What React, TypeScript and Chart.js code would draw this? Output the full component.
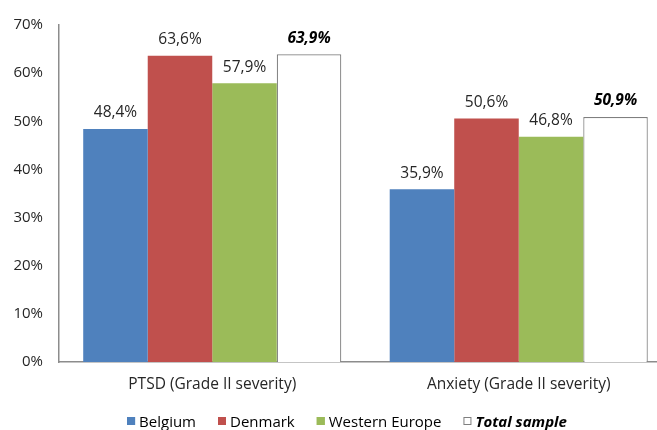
import React, { useEffect, useRef } from "react";
import { Chart, registerables } from "chart.js";

Chart.register(...registerables);

const categories = ["PTSD (Grade II severity)", "Anxiety (Grade II severity)"];
const seriesNames = ["Belgium", "Denmark", "Western Europe", "Total sample"];
const belgium = [48.4, 35.9];
const denmark = [63.6, 50.6];
const westernEurope = [57.9, 46.8];
const totalSample = [63.9, 50.9];
const yTicks = [0, 10, 20, 30, 40, 50, 60, 70];

const FONT = "'Open Sans', 'Liberation Sans', sans-serif";
const fills = ["#4F81BD", "#C0504D", "#9BBB59", "#FFFFFF"];
const borders = ["#4F81BD", "#C0504D", "#9BBB59", "#7F7F7F"];

const fmt = (v: number) => v.toFixed(1).replace(".", ",") + "%";

const valueLabels = {
  id: "valueLabels",
  afterDatasetsDraw(chart: any) {
    const ctx = chart.ctx;
    ctx.save();
    ctx.textAlign = "center";
    ctx.textBaseline = "middle";
    chart.data.datasets.forEach((ds: any, i: number) => {
      const meta = chart.getDatasetMeta(i);
      const isTotal = i === 3;
      ctx.font = (isTotal ? "italic bold " : "") + "15.5px " + FONT;
      ctx.fillStyle = isTotal ? "#000000" : "#262626";
      meta.data.forEach((bar: any, j: number) => {
        ctx.fillText(fmt(ds.data[j]), bar.x, bar.y - 16);
      });
    });
    ctx.restore();
  },
};

const customLegend = {
  id: "customLegend",
  afterDraw(chart: any) {
    const ctx = chart.ctx;
    ctx.save();
    const y = 421;
    const box = 8;
    const gapText = 4;
    const spacing = 22;
    const items = chart.data.datasets.map((ds: any, i: number) => {
      const font = (i === 3 ? "italic bold " : "") + "15px " + FONT;
      ctx.font = font;
      const w = ctx.measureText(ds.label).width;
      return { label: ds.label, font, w, fill: ds.backgroundColor, stroke: ds.borderColor };
    });
    const total = items.reduce((s: number, it: any) => s + box + gapText + it.w, 0) + spacing * (items.length - 1);
    let x = 347 - total / 2;
    ctx.textBaseline = "middle";
    ctx.textAlign = "left";
    items.forEach((it: any) => {
      ctx.fillStyle = it.fill;
      ctx.fillRect(x, y - box / 2, box, box);
      ctx.strokeStyle = it.stroke;
      ctx.lineWidth = 1;
      ctx.strokeRect(x + 0.5, y - box / 2 + 0.5, box - 1, box - 1);
      ctx.font = it.font;
      ctx.fillStyle = "#000000";
      ctx.fillText(it.label, x + box + gapText, y + 1.5);
      x += box + gapText + it.w + spacing;
    });
    ctx.restore();
  },
};

export default function App() {
  const ref = useRef<HTMLCanvasElement>(null);
  useEffect(() => {
    const series = [belgium, denmark, westernEurope, totalSample];
    const chart = new Chart(ref.current as HTMLCanvasElement, {
      type: "bar",
      data: {
        labels: categories,
        datasets: series.map((d, i) => ({
          label: seriesNames[i],
          data: d,
          backgroundColor: fills[i],
          borderColor: borders[i],
          borderWidth: i === 3 ? 1.2 : 0,
          categoryPercentage: 0.842,
          barPercentage: 1,
        })),
      },
      options: {
        responsive: false,
        animation: false,
        layout: { padding: { top: 24, right: 8, bottom: 30, left: 0 } },
        plugins: { legend: { display: false }, tooltip: { enabled: false } },
        scales: {
          x: {
            grid: { display: false, drawTicks: false },
            border: { display: true, color: "#8C8C8C", width: 1.5 },
            ticks: { color: "#262626", font: { family: FONT, size: 15.5 }, padding: 13, maxRotation: 0 },
            afterFit: (s: any) => { s.height = 38; },
          },
          y: {
            min: 0,
            max: 70,
            grid: { display: false, drawTicks: false },
            border: { display: true, color: "#8C8C8C", width: 1.5 },
            afterBuildTicks: (s: any) => { s.ticks = yTicks.map((v) => ({ value: v })); },
            ticks: {
              color: "#262626",
              font: { family: FONT, size: 15 },
              padding: 16,
              callback: (v: any) => v + "%",
            },
            afterFit: (s: any) => { s.width = 59; },
          },
        },
      },
      plugins: [valueLabels, customLegend],
    });
    return () => chart.destroy();
  }, []);
  return (
    <div style={{ position: "fixed", left: 0, top: 0, width: 657, height: 430, overflow: "hidden", background: "#fff" }}>
      <canvas ref={ref} width={680} height={430} style={{ width: 680, height: 430, display: "block" }} />
    </div>
  );
}
